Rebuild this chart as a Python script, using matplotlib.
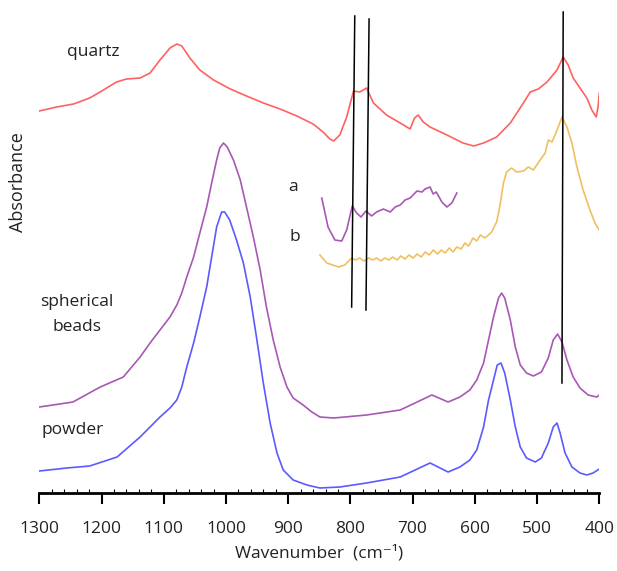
import matplotlib
matplotlib.use("Agg")
import matplotlib.pyplot as plt
from matplotlib.ticker import MultipleLocator

plt.rcParams['font.family'] = ['Open Sans', 'DejaVu Sans']

# spectra (wavenumber in cm-1, absorbance in arbitrary offset units)
quartz_wn = [1300, 1272, 1245, 1219, 1197, 1176, 1160, 1138, 1122, 1106, 1090, 1079, 1071, 1058,
             1042, 1020, 993, 967, 940, 913, 886, 860, 844, 833, 827, 817, 806, 795, 785, 774,
             763, 742, 720, 704, 697, 691, 683, 672, 645, 619, 602, 586, 565, 543, 522, 511,
             498, 484, 468, 458, 450, 442, 431, 420, 412, 405, 402, 400]
quartz_ab = [3.82, 3.86, 3.89, 3.95, 4.03, 4.11, 4.14, 4.15, 4.20, 4.33, 4.45, 4.49, 4.47, 4.35,
             4.23, 4.13, 4.04, 3.97, 3.90, 3.84, 3.77, 3.69, 3.61, 3.54, 3.52, 3.58, 3.76, 4.02, 4.01, 4.05,
             3.90, 3.78, 3.70, 3.64, 3.75, 3.78, 3.71, 3.66, 3.58, 3.50, 3.47, 3.50, 3.56, 3.70, 3.90, 4.01,
             4.04, 4.11, 4.23, 4.36, 4.28, 4.15, 4.05, 3.95, 3.83, 3.76, 3.86, 4.00]

beads_wn = [1300, 1278, 1246, 1202, 1165, 1138, 1122, 1106, 1090, 1079, 1071, 1063, 1052, 1042,
            1031, 1023, 1015, 1010, 1004, 998, 988, 977, 967, 956, 945, 935, 924, 913, 902, 892,
            876, 862, 849, 827, 809, 774, 720, 669, 643, 624, 608, 597, 586, 578, 570, 562, 557,
            552, 543, 535, 527, 517, 506, 493, 482, 474, 467, 460, 452, 442, 431, 418, 404, 400]
beads_ab = [0.86, 0.88, 0.91, 1.06, 1.16, 1.36, 1.50, 1.63, 1.76, 1.88, 2.00, 2.16, 2.36, 2.60,
            2.86, 3.10, 3.33, 3.45, 3.50, 3.46, 3.33, 3.13, 2.86, 2.56, 2.23, 1.86, 1.53, 1.26, 1.06, 0.95,
            0.88, 0.81, 0.76, 0.75, 0.76, 0.78, 0.83, 0.98, 0.91, 0.96, 1.03, 1.13, 1.30, 1.53, 1.76, 1.95, 2.00,
            1.95, 1.73, 1.46, 1.28, 1.20, 1.17, 1.21, 1.35, 1.53, 1.59, 1.51, 1.33, 1.16, 1.05, 0.98, 0.96, 0.98]

powder_wn = [1300, 1256, 1219, 1175, 1138, 1122, 1106, 1090, 1079, 1071, 1063, 1052, 1042, 1031,
             1023, 1015, 1007, 1002, 994, 983, 972, 961, 951, 940, 929, 918, 908, 892, 870, 849,
             817, 774, 720, 672, 643, 624, 608, 597, 586, 578, 570, 564, 558, 552, 543, 535, 527,
             517, 503, 493, 482, 474, 468, 463, 455, 444, 431, 420, 410, 400]
powder_ab = [0.22, 0.25, 0.27, 0.36, 0.56, 0.66, 0.76, 0.85, 0.93, 1.06, 1.26, 1.50, 1.76, 2.06,
             2.36, 2.66, 2.81, 2.81, 2.73, 2.53, 2.30, 1.96, 1.56, 1.10, 0.70, 0.40, 0.23, 0.13, 0.08, 0.05,
             0.06, 0.10, 0.16, 0.30, 0.21, 0.26, 0.33, 0.43, 0.66, 0.93, 1.13, 1.28, 1.30, 1.20, 0.93, 0.66, 0.46,
             0.35, 0.31, 0.35, 0.50, 0.66, 0.70, 0.60, 0.40, 0.26, 0.20, 0.18, 0.20, 0.24]

# inset spectra a and b
a_wn = [846, 836, 825, 814, 806, 797, 790, 783, 775, 766, 758, 747, 736, 728, 720, 712, 704,
        693, 685, 680, 672, 667, 662, 653, 645, 637, 629]
a_ab = [2.95, 2.66, 2.53, 2.52, 2.63, 2.87, 2.80, 2.76, 2.82, 2.77, 2.81, 2.84, 2.81, 2.86, 2.88,
        2.93, 2.95, 3.02, 3.01, 3.04, 3.06, 2.99, 3.01, 2.91, 2.86, 2.90, 3.00]

b_wn = [849, 838, 819, 809, 798, 792, 785, 778, 771, 764, 758, 751, 745, 738, 732, 725, 719,
        712, 706, 699, 693, 686, 680, 673, 667, 660, 654, 648, 641, 635, 629, 622, 616, 610,
        603, 597, 591, 584, 578, 573, 565, 560, 554, 549, 541, 533, 522, 514, 506, 495, 487,
        482, 476, 471, 466, 460, 452, 444, 436, 426, 415, 407, 400]
b_ab = [2.38, 2.30, 2.26, 2.28, 2.35, 2.33, 2.35, 2.32, 2.35, 2.33, 2.35, 2.32, 2.35, 2.33, 2.36,
        2.33, 2.37, 2.34, 2.38, 2.35, 2.39, 2.36, 2.41, 2.38, 2.43, 2.39, 2.43, 2.40, 2.45, 2.41,
        2.46, 2.44, 2.50, 2.47, 2.55, 2.52, 2.58, 2.55, 2.58, 2.61, 2.71, 2.86, 3.10, 3.21, 3.25,
        3.21, 3.22, 3.26, 3.23, 3.33, 3.40, 3.53, 3.51, 3.58, 3.66, 3.76, 3.66, 3.50, 3.26, 3.03,
        2.83, 2.70, 2.63]

# guide lines: (wn_top, ab_top, wn_bottom, ab_bottom)
guides = [(793, 4.77, 798, 1.86),
          (770, 4.74, 775, 1.83),
          (458, 4.81, 460, 1.10)]

fig = plt.figure(figsize=(6.17, 5.71), dpi=100)
ax = fig.add_axes([0.0637, 0.1366, 0.9076, 0.8634])

ax.plot(quartz_wn, quartz_ab, color='#ff6161', lw=1.2)
ax.plot(beads_wn, beads_ab, color='#a858b4', lw=1.2)
ax.plot(powder_wn, powder_ab, color='#5a5aff', lw=1.2)
ax.plot(a_wn, a_ab, color='#a858b4', lw=1.2)
ax.plot(b_wn, b_ab, color='#f0c060', lw=1.2)
for x0, y0, x1, y1 in guides:
    ax.plot([x0, x1], [y0, y1], color='black', lw=1.1)

txt = dict(fontsize=12.5, color='#222222', ha='center', va='center')
ax.text(1214, 4.41, 'quartz', **txt)
ax.text(1239, 1.91, 'spherical', **txt)
ax.text(1239, 1.66, 'beads', **txt)
ax.text(1246, 0.63, 'powder', **txt)
ax.text(892, 3.06, 'a', **txt)
ax.text(889, 2.56, 'b', **txt)

ax.set_xlim(1300, 400)
ax.set_ylim(0, 4.93)
ax.xaxis.set_major_locator(MultipleLocator(100))
ax.xaxis.set_minor_locator(MultipleLocator(20))
ax.tick_params(axis='x', which='major', direction='out', length=8, width=1.5,
               labelsize=12.5, pad=12, colors='black', labelcolor='#222222')
ax.tick_params(axis='x', which='minor', direction='in', length=3, width=0.8)
ax.set_yticks([])
for s in ['top', 'left', 'right']:
    ax.spines[s].set_visible(False)
ax.spines['bottom'].set_linewidth(2)

ax.set_xlabel('Wavenumber  (cm\u207b\u00b9)', fontsize=12.5, color='#222222', labelpad=6)
ax.set_ylabel('Absorbance', fontsize=13, color='#222222')
ax.yaxis.set_label_coords(-0.022, 0.63)

fig.savefig('out.png', dpi=100)
